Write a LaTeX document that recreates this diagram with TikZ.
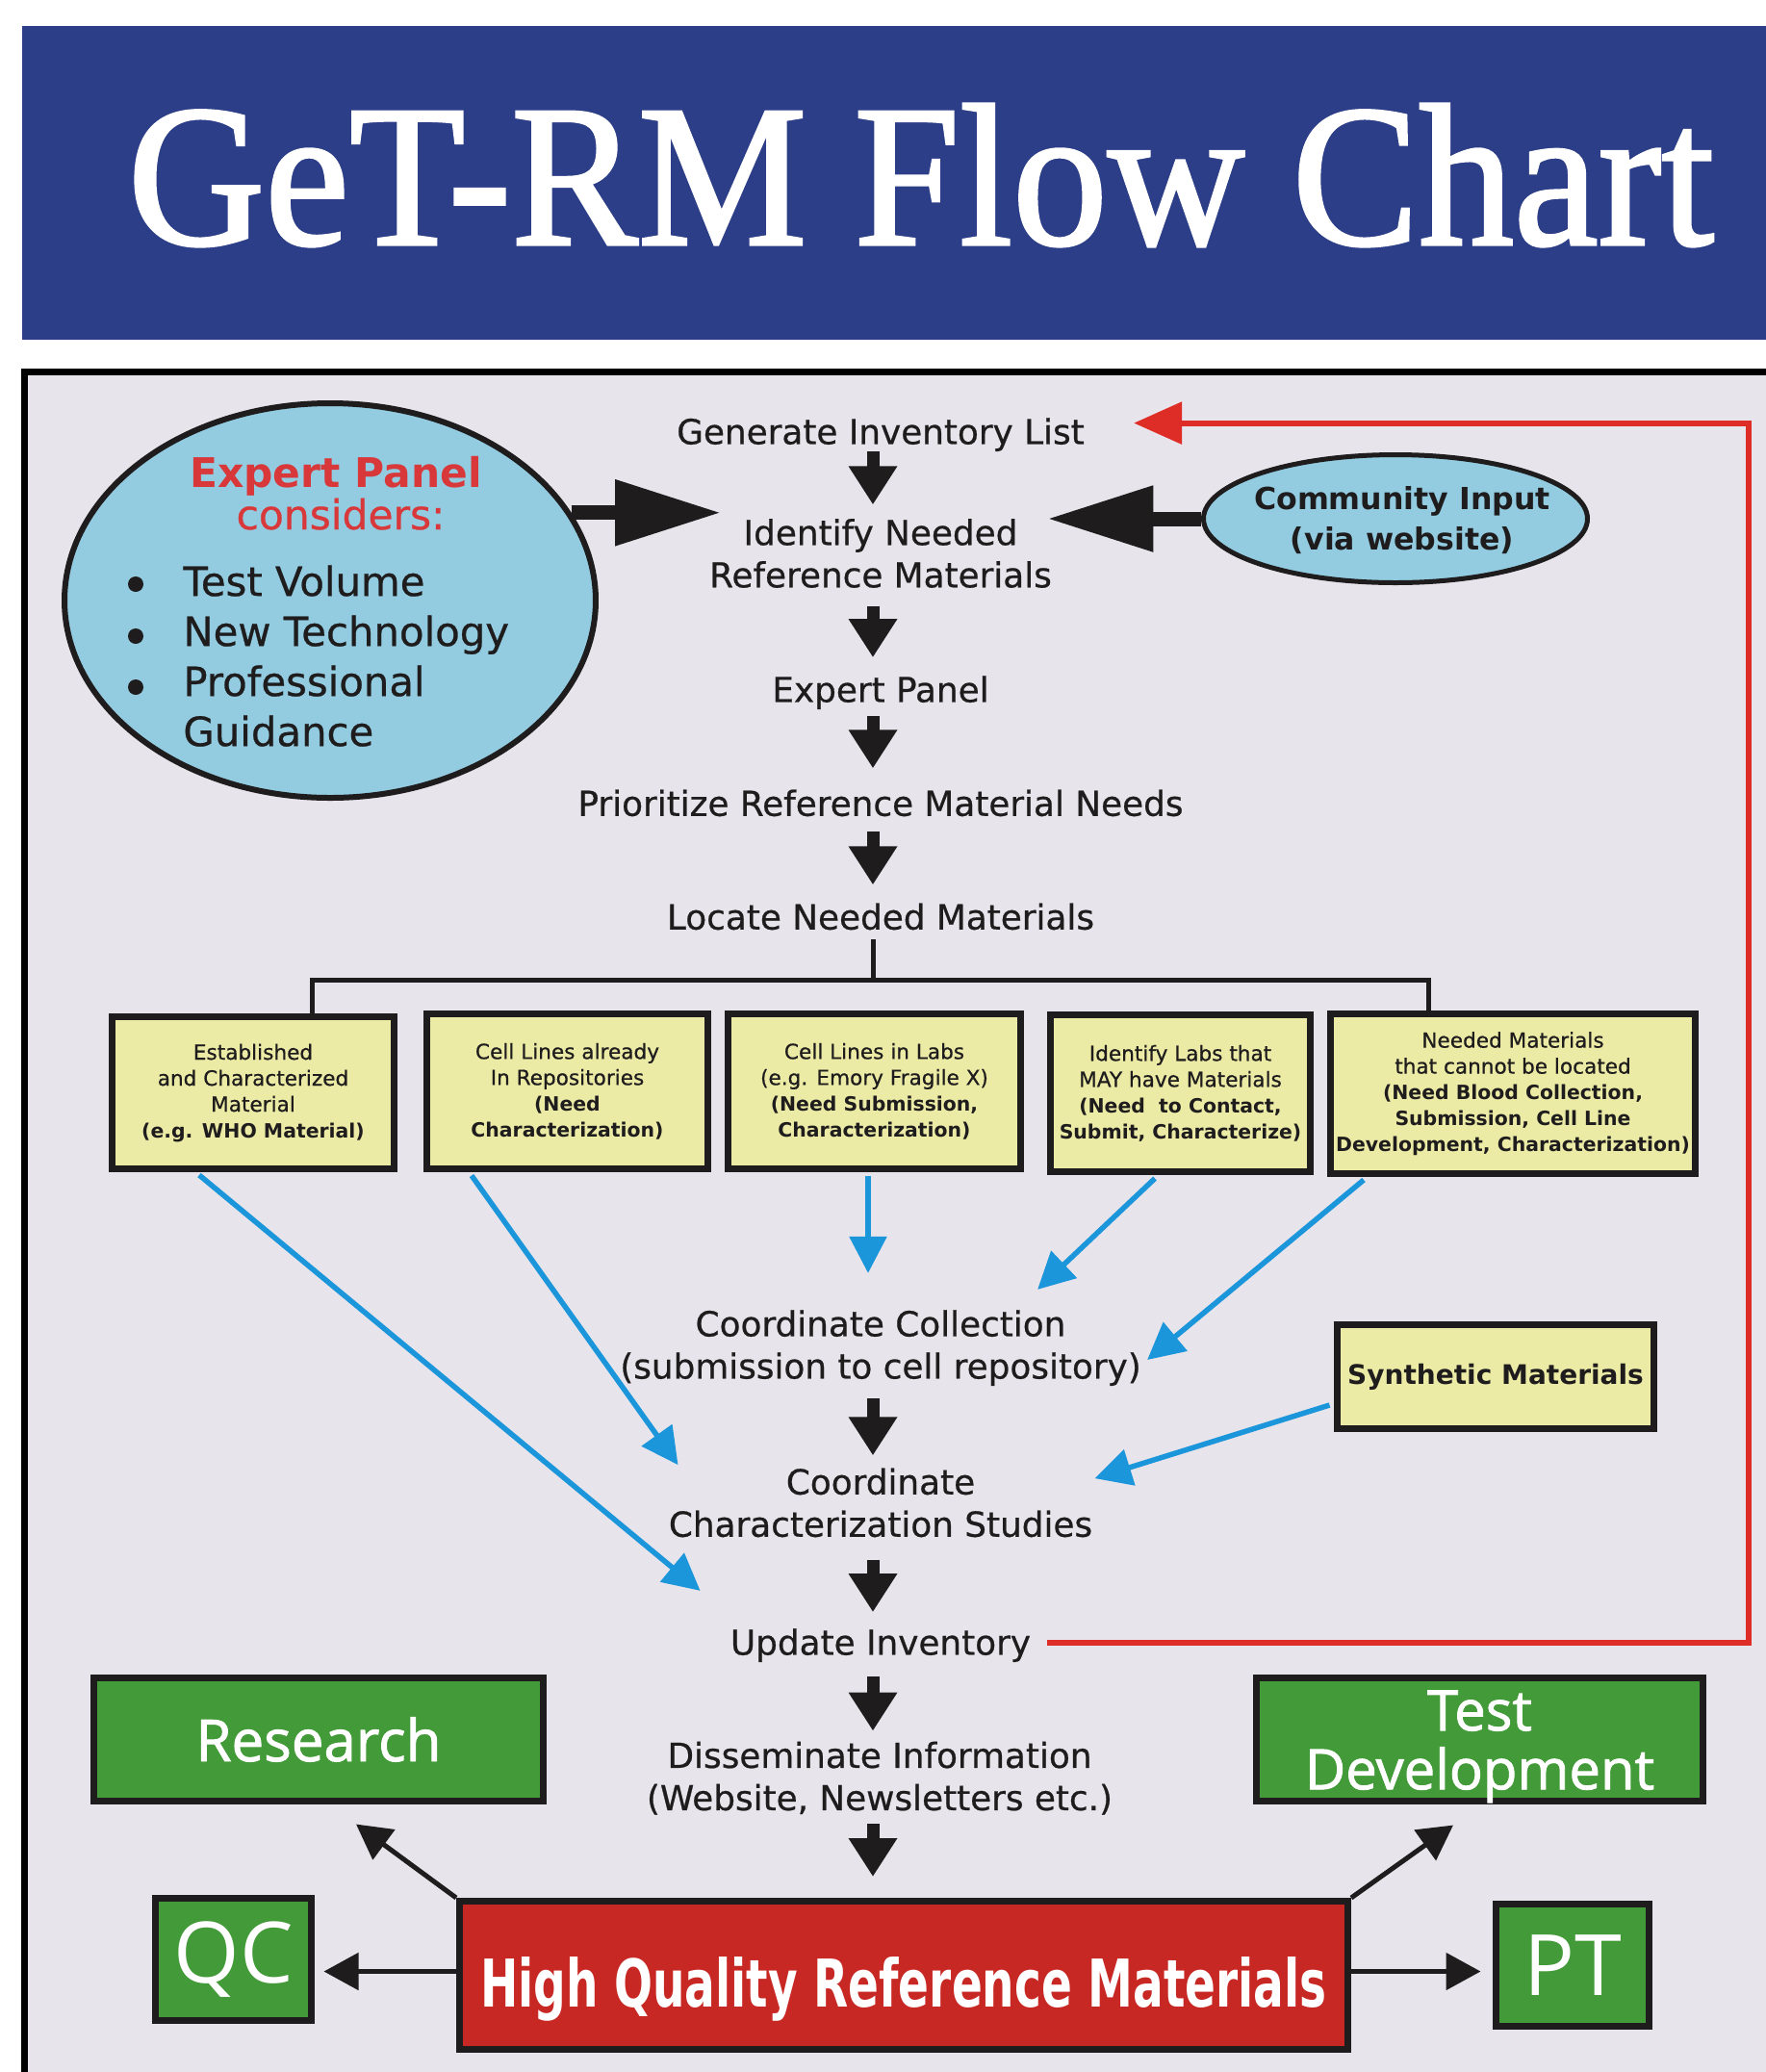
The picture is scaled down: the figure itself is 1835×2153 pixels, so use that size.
\documentclass[tikz,border=0pt]{standalone}
\usepackage{fontspec}
\usepackage{graphicx}
\setmainfont{DejaVu Sans}[UprightFeatures={FakeBold=0.6}]
\newfontfamily\titlefont{Liberation Serif}[FakeBold=1.5]
\newfontfamily\osans{Open Sans}
\newfontfamily\osansb{Open Sans}[FakeBold=1.5]
\usetikzlibrary{arrows.meta,shapes.geometric,calc}
\definecolor{hdrblue}{RGB}{44,62,135}
\definecolor{panelbg}{RGB}{232,228,235}
\definecolor{lightblue}{RGB}{147,203,224}
\definecolor{paleyellow}{RGB}{236,235,166}
\definecolor{grn}{RGB}{67,154,56}
\definecolor{hqred}{RGB}{200,40,36}
\definecolor{fbred}{RGB}{222,44,38}
\definecolor{arrblue}{RGB}{28,150,218}
\definecolor{ink}{RGB}{30,28,29}
\definecolor{eptitle}{RGB}{216,56,58}
\newcommand\bx[1]{{\fontsize{10.2pt}{13.5pt}\selectfont\bfseries #1}}
\begin{document}
\begin{tikzpicture}[x=0.5pt,y=-0.5pt,
  flow/.style={font=\fontsize{17.9pt}{22pt}\selectfont, text=ink, inner sep=0pt, align=center},
  blk/.style={draw=ink, line width=6.5pt, -{Triangle[length=20pt,width=24pt]}},
  bigarr/.style={draw=ink, line width=7.5pt, -{Triangle[length=55pt,width=32.5pt]}},
  bluearr/.style={draw=arrblue, line width=2.75pt, -{Triangle[length=19pt,width=19pt]}},
  thinarr/.style={draw=ink, line width=2.5pt, -{Triangle[length=18pt,width=19pt]}},
  redarr/.style={draw=fbred, line width=3pt, -{Triangle[length=25pt,width=21.5pt]}},
  bar/.style={draw=ink, line width=2.5pt},
  bulletdot/.style={fill=ink},
  srcbox/.style={rectangle, draw=ink, line width=3.5pt, fill=paleyellow, inner sep=0pt, align=center, text=ink, font=\fontsize{10.8pt}{13.5pt}\selectfont},
  grnbox/.style={rectangle, draw=ink, line width=3.5pt, fill=grn, inner sep=0pt, align=center, text=white}]
\useasboundingbox (0,0) rectangle (1835,2153);
\fill[white] (0,0) rectangle (1835,2153);
% header
\node[fill=hdrblue, inner sep=0pt, minimum width=934pt, minimum height=163pt, text=white] (hdr) at (957,190)
  {\raisebox{4.5pt}[73pt][0pt]{\resizebox{824pt}{73pt}{\titlefont GeT-RM Flow Chart}}};
% main panel
\draw[line width=3.5pt, fill=panelbg] (25.5,386.5) rectangle (1900,2220);
\coordinate (ax) at (907,0);
\coordinate (rx) at (1817,0);
\coordinate (hy) at (0,1018);
\coordinate (dl) at (324,0);
\coordinate (dr) at (1484,0);
% expert panel circle
\node[ellipse, draw=ink, line width=3pt, fill=lightblue, minimum width=276pt, minimum height=205pt, inner sep=0pt] (epc) at (343,624) {};
\node[font=\bfseries\fontsize{21.2pt}{26pt}\selectfont, text=eptitle, inner sep=0pt, anchor=base] (ept) at (349,506) {Expert Panel};
\node[font=\fontsize{21.2pt}{26pt}\selectfont, text=eptitle, inner sep=0pt, anchor=base] (epcons) at (354,550) {considers:};
\node[font=\fontsize{20.9pt}{26pt}\selectfont, text=ink, inner sep=0pt, align=left, anchor=north west] (eplist) at (190,587)
  {Test Volume\\New Technology\\Professional\\Guidance};
\fill[bulletdot] (141,607) circle[radius=4pt];
\fill[bulletdot] (141,661) circle[radius=4pt];
\fill[bulletdot] (141,714) circle[radius=4pt];
% community input
\node[ellipse, draw=ink, line width=2.5pt, fill=lightblue, minimum width=199.5pt, minimum height=66.5pt, inner sep=0pt] (ci) at (1450,539) {};
\node[font=\bfseries\fontsize{15.8pt}{21pt}\selectfont, text=ink, inner sep=0pt, align=center] (citxt) at ($(ci.center)+(7,1.6)$) {Community Input\\(via website)};
% flow texts
\node[flow] (gen) at (915,451.6) {Generate Inventory List};
\node[flow] (ident) at (915,575) {Identify Needed\\Reference Materials};
\node[flow] (expert) at (915,719.6) {Expert Panel};
\node[flow] (prio) at (915,834.4) {Prioritize Reference Material Needs};
\node[flow] (locate) at (915,952.4) {Locate Needed Materials};
\node[flow] (coll) at (915,1400.6) {Coordinate Collection\\(submission to cell repository)};
\node[flow] (charst) at (915,1561.4) {Coordinate\\Characterization Studies};
\node[flow] (update) at (915,1709.6) {Update Inventory};
\node[flow] (dissem) at (914,1847.7) {Disseminate Information\\(Website, Newsletters etc.)};
% source boxes
\node[srcbox, minimum width=146.5pt, minimum height=79pt] (b1) at (263,1135.5)
  {Established\\and Characterized\\Material\\\bx{(e.g. WHO Material)}};
\node[srcbox, minimum width=146pt, minimum height=80.5pt] (b2) at (589.5,1134)
  {Cell Lines already\\In Repositories\\\bx{(Need}\\\bx{Characterization)}};
\node[srcbox, minimum width=152pt, minimum height=80.5pt] (b3) at (908.5,1134)
  {Cell Lines in Labs\\(e.g. Emory Fragile X)\\\bx{(Need Submission,}\\\bx{Characterization)}};
\node[srcbox, minimum width=135pt, minimum height=81.5pt] (b4) at (1226.5,1136)
  {Identify Labs that\\MAY have Materials\\\bx{(Need\ \ to Contact,}\\\bx{Submit, Characterize)}};
\node[srcbox, minimum width=189.5pt, minimum height=83pt] (b5) at (1572,1136.5)
  {Needed Materials\\that cannot be located\\\bx{(Need Blood Collection,}\\\bx{Submission, Cell Line}\\\bx{Development, Characterization)}};
\node[srcbox, font=\bfseries\fontsize{14pt}{17pt}\selectfont, minimum width=164.5pt, minimum height=54pt] (syn) at (1554,1430.5) {Synthetic Materials};
% outcome boxes
\node[grnbox, minimum width=233.5pt, minimum height=64pt, font=\osansb\fontsize{30pt}{30pt}\selectfont] (res) at (331,1807.5) {Research};
\node[grnbox, minimum width=232pt, minimum height=64pt, font=\osansb\fontsize{29pt}{28.5pt}\selectfont] (td) at (1537.5,1807.5)
  {\raisebox{-4.5pt}[\height][\depth]{\begin{tabular}{@{}c@{}}Test\\Development\end{tabular}}};
\node[grnbox, minimum width=81pt, minimum height=63.5pt, font=\osans\fontsize{44pt}{44pt}\selectfont] (qc) at (242.5,2036) {QC};
\node[grnbox, minimum width=79.5pt, minimum height=63.5pt, font=\osans\fontsize{44pt}{44pt}\selectfont] (pt) at (1634,2042) {PT};
\node[rectangle, draw=ink, line width=3.5pt, fill=hqred, text=white, inner sep=0pt, minimum width=461.5pt, minimum height=77pt] (hq) at (939,2052.5)
  {\raisebox{-3.25pt}[26pt][0pt]{\resizebox{439.5pt}{26pt}{\bfseries High Quality Reference Materials}}};
% main flow arrows
\draw[blk, shorten >=7.2pt] (gen.south -| ax) -- (ident.north -| ax);
\draw[blk, shorten <=9.2pt, shorten >=9.4pt] (ident.south -| ax) -- (expert.north -| ax);
\draw[blk, shorten <=3.3pt, shorten >=10.9pt] (expert.south -| ax) -- (prio.north -| ax);
\draw[blk, shorten <=7.5pt, shorten >=9.4pt] (prio.south -| ax) -- (locate.north -| ax);
\draw[blk, shorten <=6.3pt, shorten >=6.4pt] (coll.south -| ax) -- (charst.north -| ax);
\draw[blk, shorten <=11.5pt, shorten >=8.4pt] (charst.south -| ax) -- (update.north -| ax);
\draw[blk, shorten <=7.3pt, shorten >=5.4pt] (update.south -| ax) -- (dissem.north -| ax);
\draw[blk, shorten <=4.6pt, shorten >=11pt] (dissem.south -| ax) -- (hq.north -| ax);
% inputs to identify
\draw[bigarr] (epc.20.7) -- ($(ident.west |- epc.20.7)+(12.5,0)$);
\draw[bigarr] (ci.west) -- ($(ident.east |- ci.west)+(-5,0)$);
% locate branches
\draw[bar, shorten <=4.5pt] (locate.south -| ax) -- (ax |- hy);
\draw[bar] (dl |- b1.north) |- (dr |- hy) -- (dr |- b5.north);
% blue arrows
\draw[bluearr] ($(b1.south)+(-56,3)$) -- ($(update.north west)+(-31,-39)$);
\draw[bluearr] ($(b2.south)+(-99.5,3.5)$) -- ($(charst.north west)+(10,-3)$);
\draw[bluearr] ($(b3.south)+(-6.5,3.5)$) -- ($(coll.north)+(-13,-38)$);
\draw[bluearr] ($(b4.south)+(-26.5,3.5)$) -- ($(coll.north east)+(-108,-21)$);
\draw[bluearr] ($(b5.south)+(-155,3)$) -- ($(coll.east)+(6,12.4)$);
\draw[bluearr] ($(syn.west)+(-4.5,29.5)$) -- ($(charst.north east)+(2,11)$);
% feedback loop
\draw[redarr] ($(update.east)+(17,-3)$) -| ($(rx |- gen.east)+(0,-12)$) -- ($(gen.east)+(51,-12)$);
% outcome arrows
\draw[thinarr] (hq.north west) -- ($(res.south)+(39,20.5)$);
\draw[thinarr] (hq.north east) -- ($(td.south)+(-27.5,21.5)$);
\draw[thinarr, shorten >=4.75pt] ($(hq.west)+(0,-4)$) -- ($(hq.west -| qc.east)+(0,-4)$);
\draw[thinarr, shorten >=6.25pt] ($(hq.east)+(0,-4)$) -- ($(hq.east -| pt.west)+(0,-4)$);
\end{tikzpicture}
\end{document}
